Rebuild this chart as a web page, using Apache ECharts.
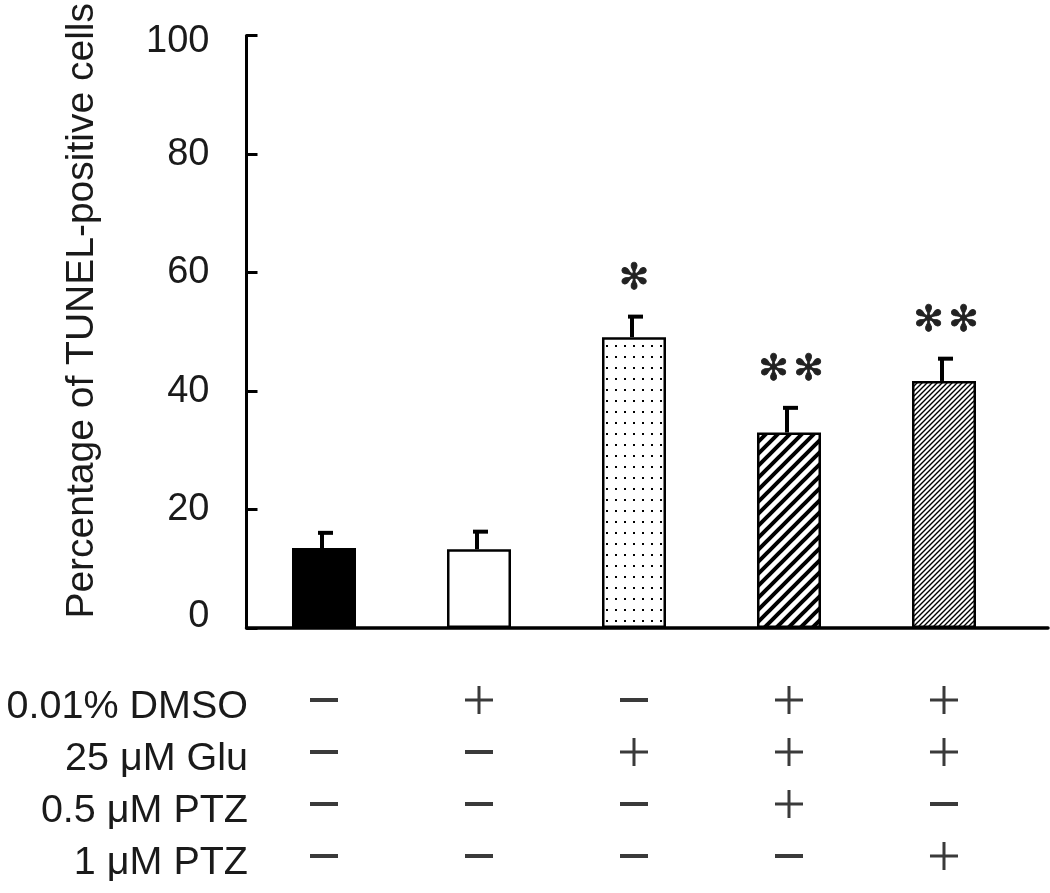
<!DOCTYPE html>
<html>
<head>
<meta charset="utf-8">
<script src="https://cdn.jsdelivr.net/npm/echarts@6/dist/echarts.min.js"></script>
<style>
  html, body { margin: 0; padding: 0; background: #fff; }
  #chart { width: 1050px; height: 893px; }
</style>
</head>
<body>
<div id="chart"></div>
<script>
// ---- data ----
const categories = ['Control', 'DMSO', 'Glu', 'Glu + 0.5 PTZ', 'Glu + 1 PTZ'];
const means = [13.5, 13.3, 49.1, 33.0, 41.7];
const sds = [2.9, 3.3, 3.8, 4.5, 4.1];
const significance = ['', '', '*', '**', '**'];
const yTicks = [0, 20, 40, 60, 80, 100];
const yTitle = 'Percentage of TUNEL-positive cells';
const rowLabels = ['0.01% DMSO', '25 μM Glu', '0.5 μM PTZ', '1 μM PTZ'];
const dmsoRow = ['−', '+', '−', '+', '+'];
const gluRow = ['−', '−', '+', '+', '+'];
const ptz05Row = ['−', '−', '−', '+', '−'];
const ptz1Row = ['−', '−', '−', '−', '+'];

// ---- patterns ----
function makeCanvas(w, h) {
  const c = document.createElement('canvas');
  c.width = w; c.height = h;
  const ctx = c.getContext('2d');
  ctx.fillStyle = '#fff';
  ctx.fillRect(0, 0, w, h);
  return [c, ctx];
}
function dotPattern() {
  const [c, ctx] = makeCanvas(9, 11);
  ctx.fillStyle = '#000';
  ctx.fillRect(3, 4, 2, 2);
  return c;
}
function stripePattern(s, lw) {
  const [c, ctx] = makeCanvas(s, s);
  ctx.strokeStyle = '#000';
  ctx.lineWidth = lw;
  ctx.beginPath();
  ctx.moveTo(-1, s + 1); ctx.lineTo(s + 1, -1);
  ctx.moveTo(-s / 2 - 1, s / 2 + 1); ctx.lineTo(s / 2 + 1, -s / 2 - 1);
  ctx.moveTo(s / 2 - 1, s * 1.5 + 1); ctx.lineTo(s * 1.5 + 1, s / 2 - 1);
  ctx.stroke();
  return c;
}

const fills = [
  '#000',
  '#fff',
  { image: dotPattern(), repeat: 'repeat' },
  { image: stripePattern(12, 4), repeat: 'repeat' },
  { image: stripePattern(5, 1.4), repeat: 'repeat' }
];

const rows = [dmsoRow, gluRow, ptz05Row, ptz1Row];
const tableData = [];
rows.forEach((row, r) => row.forEach((s, c) => tableData.push([c, r, s])));

const FONT = '"Liberation Sans", Arial, sans-serif';
const xMin = -0.5, xMax = 4.671;

const chart = echarts.init(document.getElementById('chart'), null, { renderer: 'canvas' });
chart.setOption({
  animation: false,
  backgroundColor: '#fff',
  grid: [
    { left: 246.5, right: 2, top: 33.5, bottom: 265 },
    { left: 246.5, right: 2, top: 681, height: 208 }
  ],
  xAxis: [
    {
      type: 'value', gridIndex: 0, min: xMin, max: xMax,
      axisLine: { show: true, onZero: true, lineStyle: { color: '#000', width: 3.5 } },
      axisTick: { show: false }, axisLabel: { show: false }, splitLine: { show: false }
    },
    {
      type: 'value', gridIndex: 1, min: xMin, max: xMax, show: false
    }
  ],
  yAxis: [
    {
      type: 'value', gridIndex: 0, min: 0, max: 100, interval: 20,
      name: yTitle, nameLocation: 'middle', nameGap: 145,
      nameTextStyle: { fontSize: 39, color: '#1a1a1a', fontFamily: FONT, padding: [0, 0, 0, 42] },
      axisLine: { show: true, onZero: false, lineStyle: { color: '#000', width: 3 } },
      axisTick: { show: true, inside: true, length: 11, lineStyle: { color: '#000', width: 3 } },
      splitLine: { show: false },
      axisLabel: {
        fontSize: 38, color: '#1a1a1a', fontFamily: FONT, margin: 37,
        formatter: v => yTicks.includes(v) ? (v === 0 ? '{z|0}' : (v === 100 ? '{t|100}' : String(v))) : '',
        rich: {
          z: { fontSize: 38, color: '#1a1a1a', fontFamily: FONT, padding: [0, 0, 22, 0] },
          t: { fontSize: 38, color: '#1a1a1a', fontFamily: FONT, padding: [12, 0, 0, 0] }
        }
      }
    },
    {
      type: 'category', gridIndex: 1, data: rowLabels, inverse: true,
      axisLine: { show: false }, axisTick: { show: false }, splitLine: { show: false },
      axisLabel: { interval: 0, hideOverlap: false, fontSize: 39.5, color: '#1a1a1a', fontFamily: FONT, margin: -1.5 }
    }
  ],
  series: [
    {
      type: 'bar', xAxisIndex: 0, yAxisIndex: 0, barWidth: 64,
      data: means.map((m, i) => ({
        name: categories[i], value: [i, m],
        itemStyle: { color: fills[i], borderColor: '#000', borderWidth: 2.5 }
      })),
      z: 2
    },
    {
      type: 'custom', xAxisIndex: 0, yAxisIndex: 0,
      data: means.map((m, i) => [i, m, sds[i]]),
      encode: { x: 0, y: 1 },
      z: 3,
      renderItem: function (params, api) {
        const i = api.value(0), m = api.value(1), s = api.value(2);
        const base = api.coord([i, m]);
        const top = api.coord([i, m + s]);
        const cx = base[0];
        const children = [
          { type: 'line', shape: { x1: cx - 2, y1: base[1], x2: cx - 2, y2: top[1] + 2 },
            style: { stroke: '#000', lineWidth: 4 } },
          { type: 'line', shape: { x1: cx - 6, y1: top[1] + 2, x2: cx + 9, y2: top[1] + 2 },
            style: { stroke: '#000', lineWidth: 4 } }
        ];
        const n = significance[i].length;
        for (let k = 0; k < n; k++) {
          const off = (k - (n - 1) / 2) * 35 + (n > 1 ? 2 : 0);
          children.push({
            type: 'text',
            style: {
              text: '✻', x: cx + off, y: top[1] - 35,
              align: 'center', verticalAlign: 'middle',
              font: '36px "DejaVu Sans"', fill: '#222', stroke: '#222', lineWidth: 0.8
            }
          });
        }
        return { type: 'group', children };
      }
    },
    {
      type: 'scatter', xAxisIndex: 1, yAxisIndex: 1,
      data: tableData,
      symbol: v => v[2] === '+'
        ? 'path://M0,12.5H28V15.5H0Z M12.5,0H15.5V28H12.5Z'
        : 'path://M0,0H28V4H0Z',
      symbolSize: v => v[2] === '+' ? [28, 28] : [28, 4],
      symbolOffset: [0, -7],
      itemStyle: { color: '#3a3a3a', opacity: 1 },
      silent: true
    }
  ]
});
</script>
</body>
</html>
